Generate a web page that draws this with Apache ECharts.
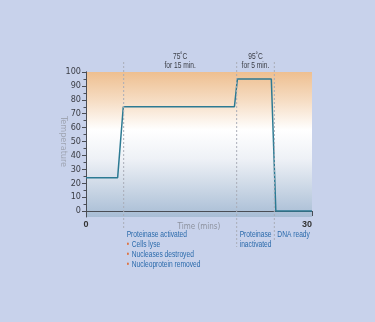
<!DOCTYPE html>
<html><head><meta charset="utf-8">
<script src="https://cdn.jsdelivr.net/npm/echarts@6/dist/echarts.min.js"></script>
<style>html,body{margin:0;padding:0;background:#c8d2eb;}#c{width:375px;height:322px;}</style>
</head><body><div id="c"></div>
<script>
// Temperature profile (time in minutes, temperature in °C)
const times = [0, 4.2, 4.95, 19.7, 20.1, 24.6, 25.2, 30];
const temps = [24, 24, 75, 75, 95, 95, 0, 0];
const xTicks = [0, 30];
const yTicks = [0, 10, 20, 30, 40, 50, 60, 70, 80, 90, 100];
const markerTimes = [5, 20, 25];
const topLabels = [["75˚C", "for 15 min."], ["95˚C", "for 5 min."]];
const bottomLabels = [
  ["Proteinase activated", "• Cells lyse", "• Nucleases destroyed", "• Nucleoprotein removed"],
  ["Proteinase", "inactivated"],
  ["DNA ready"]
];

const FONT = "'Liberation Sans',Arial,sans-serif";
const NARROW = "'DejaVu Sans Condensed','Liberation Sans Narrow',sans-serif";
const chart = echarts.init(document.getElementById('c'), null, {renderer: 'canvas'});
const data = times.map((t, i) => [t, temps[i]]);

chart.setOption({
  backgroundColor: '#c8d2eb',
  animation: false,
  grid: [
    {left: 86, top: 72, width: 226, height: 145, show: true, borderWidth: 0,
     backgroundColor: new echarts.graphic.LinearGradient(0, 0, 0, 1, [
       {offset: 0, color: '#eebf90'},
       {offset: 0.2, color: '#f6ddc4'},
       {offset: 0.4, color: '#ffffff'},
       {offset: 0.6, color: '#eef1f6'},
       {offset: 1, color: '#a8bdd5'}
     ])},
    {left: 86, top: 72, width: 226, height: 139, show: false}
  ],
  xAxis: [
    {gridIndex: 0, type: 'value', min: 0, max: 30, interval: 30,
     name: 'Time (mins)', nameLocation: 'middle', nameGap: 6, nameMoveOverlap: false,
     nameTextStyle: {color: '#8d929e', fontSize: 8, fontFamily: NARROW},
     axisLine: {show: true, lineStyle: {color: '#4a4d55', width: 1}},
     axisTick: {show: true, length: 5, lineStyle: {color: '#4a4d55'}},
     axisLabel: {color: '#333', fontSize: 9, fontFamily: FONT, fontWeight: 'bold', margin: 3, alignMaxLabel: 'right',
       formatter: v => xTicks.includes(v) ? String(v) : ''},
     splitLine: {show: false}},
    {gridIndex: 1, type: 'value', min: 0, max: 30, show: false}
  ],
  yAxis: [
    {gridIndex: 0, type: 'value', min: -4.3, max: 100,
     axisLine: {show: true, lineStyle: {color: '#4a4d55', width: 1}},
     axisTick: {show: false}, axisLabel: {show: false}, splitLine: {show: false}},
    {gridIndex: 1, type: 'value', min: 0, max: 100, interval: 10,
     name: 'Temperature', nameLocation: 'middle', nameGap: 18, nameRotate: 270, nameMoveOverlap: false,
     nameTextStyle: {color: '#a0a6b4', fontSize: 9, fontFamily: NARROW},
     axisLine: {show: true, lineStyle: {color: '#4a4d55', width: 1}},
     axisTick: {show: true, length: 4, lineStyle: {color: '#4a4d55'}},
     minorTick: {show: true, splitNumber: 2, length: 2.5, lineStyle: {color: '#4a4d55'}},
     axisLabel: {color: '#3a3c44', fontSize: 9, fontFamily: NARROW, margin: 5,
       formatter: v => yTicks.includes(v) ? String(v) : ''},
     splitLine: {show: false}}
  ],
  series: [{
    type: 'line', xAxisIndex: 0, yAxisIndex: 0, data: data,
    symbol: 'none', lineStyle: {color: '#2c7a93', width: 1.5}
  }]
});

// Annotations positioned from data coordinates
const g = [];
const yTop = 62;
const xs = markerTimes.map(t => chart.convertToPixel({gridIndex: 0}, [t, 0])[0]);
const bottoms = [229, 247, 241];
const SX = 0.74;
function txt(s, x, y, fill, align) {
  return {type: 'text', x: x, y: y, scaleX: SX, scaleY: 1,
    style: {text: s, fill: fill, font: '9px ' + FONT, textAlign: align || 'left', textVerticalAlign: 'middle'}, z: 10};
}
xs.forEach((x, i) => {
  g.push({type: 'line', shape: {x1: x, y1: yTop, x2: x, y2: bottoms[i]},
    style: {stroke: '#a9adb8', lineWidth: 1, lineDash: [2, 2]}, z: 10});
});
topLabels.forEach((lab, i) => {
  const cx = (xs[i] + xs[i + 1]) / 2;
  lab.forEach((s, j) => g.push(txt(s, cx, 57 + j * 9, '#3a3d45', 'center')));
});
bottomLabels.forEach((lines, i) => {
  const x0 = xs[i] + 3;
  lines.forEach((s, j) => {
    const y = 235 + j * (i === 0 ? 9.7 : 10);
    if (s.startsWith('•')) {
      g.push(txt('•', x0, y, '#e0703c'));
      g.push(txt(s.slice(2), x0 + 5, y, '#2a6aab'));
    } else {
      g.push(txt(s, x0, y, '#2a6aab'));
    }
  });
});
chart.setOption({graphic: g});
</script></body></html>
